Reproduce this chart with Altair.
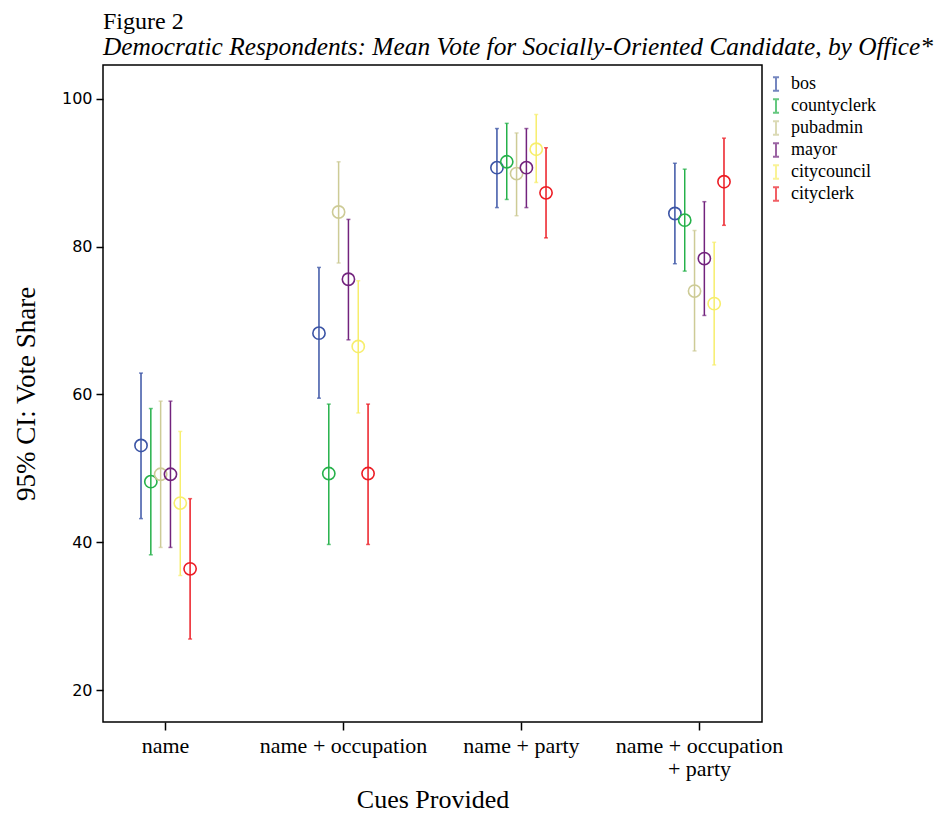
import altair as alt
import pandas as pd

offices = ["bos", "countyclerk", "pubadmin", "mayor", "citycouncil", "cityclerk"]
colors = ["#3B54A5", "#25B14A", "#CDCB96", "#72237D", "#F7EE6C", "#EC1C24"]
cues = ["name", "name + occupation", "name + party", "name + occupation + party"]

mean_bos = [53.1, 68.3, 90.7, 84.5]
mean_countyclerk = [48.2, 49.3, 91.5, 83.6]
mean_pubadmin = [49.2, 84.7, 89.9, 74.0]
mean_mayor = [49.2, 75.6, 90.7, 78.4]
mean_citycouncil = [45.3, 66.5, 93.2, 72.3]
mean_cityclerk = [36.4, 49.3, 87.3, 88.8]

lo_bos = [43.2, 59.5, 85.3, 77.7]
lo_countyclerk = [38.3, 39.7, 86.4, 76.7]
lo_pubadmin = [39.3, 77.8, 84.2, 65.9]
lo_mayor = [39.3, 67.4, 85.3, 70.7]
lo_citycouncil = [35.5, 57.5, 88.7, 64.0]
lo_cityclerk = [26.9, 39.7, 81.2, 82.9]

hi_bos = [62.9, 77.2, 96.0, 91.3]
hi_countyclerk = [58.1, 58.7, 96.7, 90.5]
hi_pubadmin = [59.1, 91.5, 95.4, 82.2]
hi_mayor = [59.1, 83.7, 96.0, 86.1]
hi_citycouncil = [55.0, 75.4, 97.9, 80.6]
hi_cityclerk = [45.9, 58.7, 93.4, 94.7]

means = [mean_bos, mean_countyclerk, mean_pubadmin, mean_mayor, mean_citycouncil, mean_cityclerk]
los = [lo_bos, lo_countyclerk, lo_pubadmin, lo_mayor, lo_citycouncil, lo_cityclerk]
his = [hi_bos, hi_countyclerk, hi_pubadmin, hi_mayor, hi_citycouncil, hi_cityclerk]

rows = []
for o, m, l, h in zip(offices, means, los, his):
    for c, mv, lv, hv in zip(cues, m, l, h):
        rows.append({"cue": c, "office": o, "mean": mv, "lo": lv, "hi": hv})
df = pd.DataFrame(rows)

SERIF = "Liberation Serif"

x_enc = alt.X(
    "cue:N",
    sort=cues,
    scale=alt.Scale(paddingInner=0.669, paddingOuter=0.186),
    axis=alt.Axis(
        title="Cues Provided",
        labelAngle=0,
        labelFont=SERIF,
        labelFontSize=22,
        labelColor="black",
        labelPadding=5,
        labelLineHeight=23,
        labelExpr="datum.value == 'name + occupation + party' ? ['name + occupation', '+ party'] : datum.value",
        tickSize=8,
        tickColor="black",
        tickWidth=1.5,
        domain=False,
        titleFont=SERIF,
        titleFontSize=26,
        titleFontWeight="normal",
        titleColor="black",
        titlePadding=7,
    ),
)
xo_enc = alt.XOffset("office:N", sort=offices, scale=alt.Scale(paddingInner=0, paddingOuter=0))
color_enc = alt.Color(
    "office:N",
    sort=offices,
    scale=alt.Scale(domain=offices, range=colors),
    legend=alt.Legend(
        title=None,
        orient="none",
        legendX=664,
        legendY=10,
        symbolType="M-0.45,-1L0.45,-1M0,-1L0,1M-0.45,1L0.45,1",
        symbolSize=180,
        symbolStrokeWidth=2,
        symbolFillColor="transparent",
        labelFont=SERIF,
        labelFontSize=18,
        labelColor="black",
        rowPadding=0,
        labelOffset=6,
    ),
)
y_scale = alt.Scale(domain=[15.67, 104.6], nice=False, zero=False)
y_axis = alt.Axis(
    title="95% CI: Vote Share",
    values=[20, 40, 60, 80, 100],
    grid=False,
    domain=False,
    tickSize=7,
    tickColor="black",
    tickWidth=1.5,
    labelFont="DejaVu Sans",
    labelFontSize=16,
    labelColor="black",
    labelPadding=4,
    titleFont=SERIF,
    titleFontSize=27,
    titleFontWeight="normal",
    titleColor="black",
    titlePadding=21,
)

base = alt.Chart(df)

rules = base.mark_rule(strokeWidth=1.5).encode(
    x=x_enc, xOffset=xo_enc,
    y=alt.Y("lo:Q", scale=y_scale, axis=y_axis), y2="hi:Q",
    color=color_enc,
)
caps_hi = base.mark_tick(size=4, thickness=1.5).encode(
    x=x_enc, xOffset=xo_enc, y=alt.Y("hi:Q", scale=y_scale),
    color=color_enc,
)
caps_lo = base.mark_tick(size=4, thickness=1.5).encode(
    x=x_enc, xOffset=xo_enc, y=alt.Y("lo:Q", scale=y_scale),
    color=color_enc,
)
points = base.mark_point(shape="circle", filled=False, size=150, strokeWidth=1.6, opacity=1).encode(
    x=x_enc, xOffset=xo_enc, y=alt.Y("mean:Q", scale=y_scale),
    color=color_enc,
)

chart = alt.layer(rules, caps_hi, caps_lo, points).properties(
    width=659,
    height=657,
    background="white",
    padding={"left": 95, "top": 57, "right": 180, "bottom": 90},
    autosize=alt.AutoSizeParams(type="none"),
    title=alt.TitleParams(
        text="Figure 2",
        subtitle="Democratic Respondents: Mean Vote for Socially-Oriented Candidate, by Office*",
        anchor="start",
        frame="group",
        font=SERIF,
        fontSize=24,
        fontWeight="normal",
        color="black",
        subtitleFont=SERIF,
        subtitleFontSize=25.4,
        subtitleFontStyle="italic",
        subtitleColor="black",
        subtitlePadding=1,
        offset=5,
    ),
).configure_view(stroke="black", strokeWidth=1.5)

chart.save("out.html", embed_options={"renderer": "svg", "actions": False})
